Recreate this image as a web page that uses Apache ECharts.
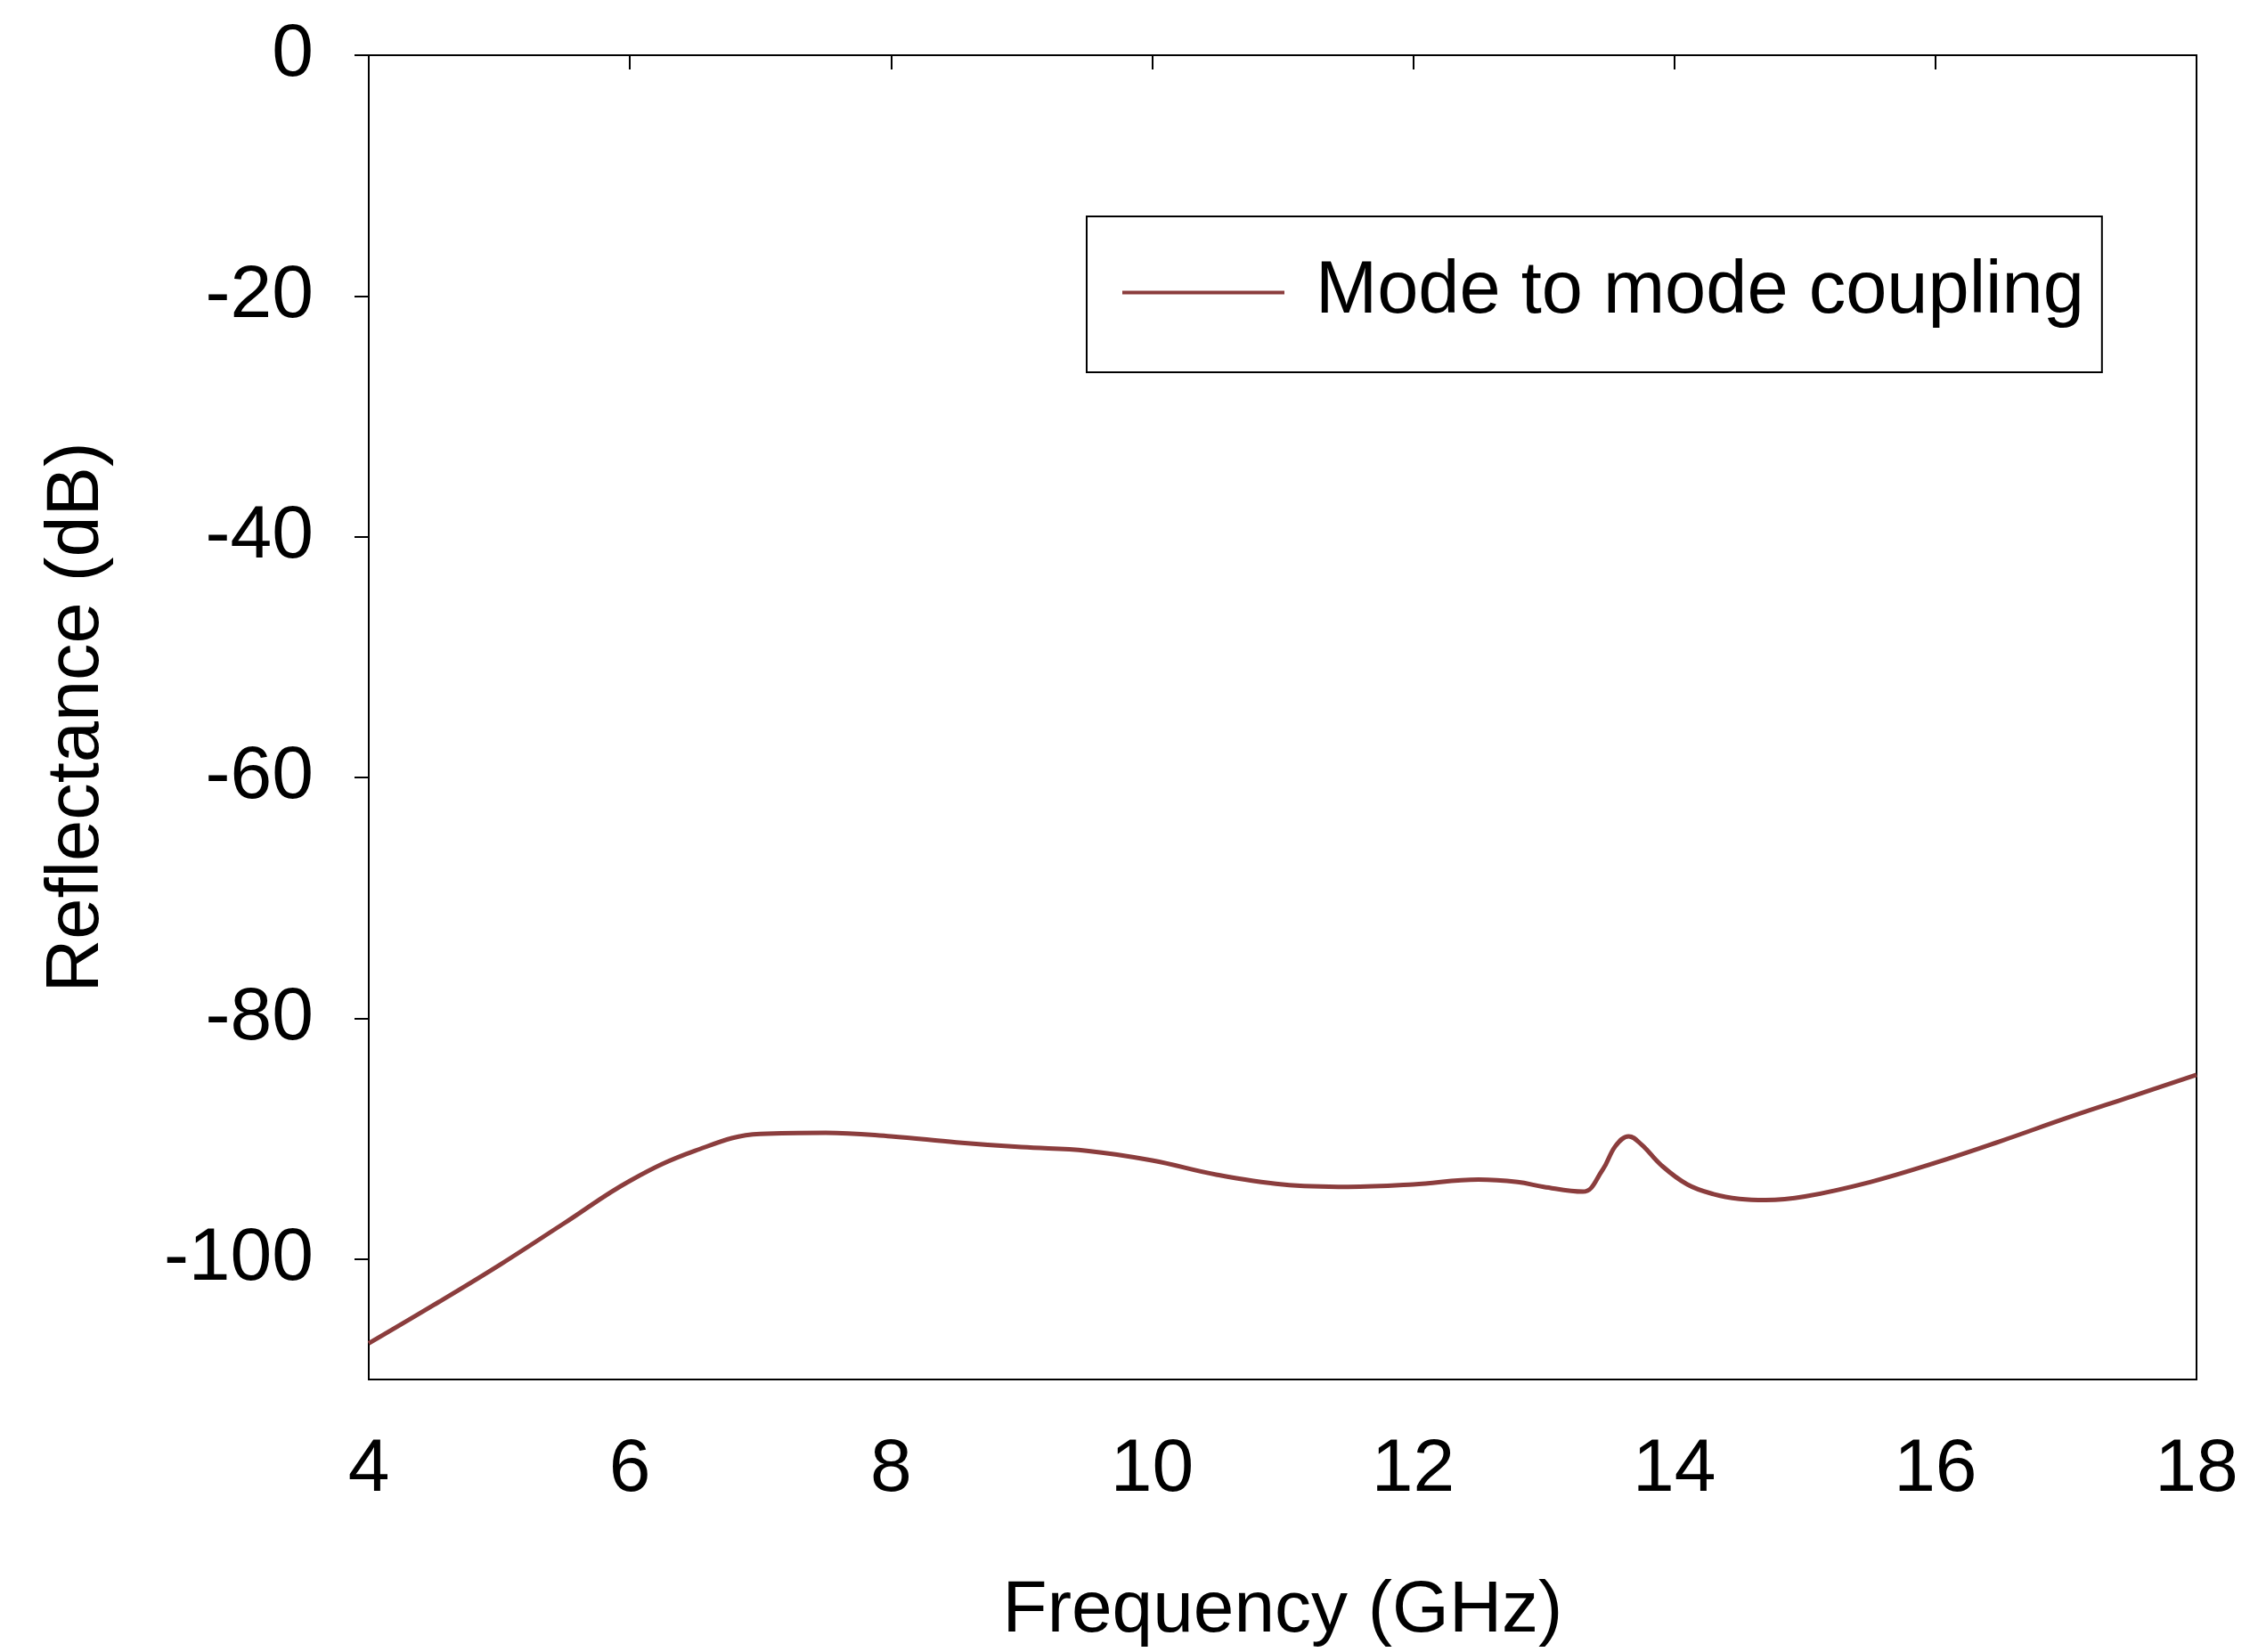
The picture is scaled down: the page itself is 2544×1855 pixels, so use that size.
<!DOCTYPE html>
<html><head><meta charset="utf-8">
<script src="https://cdn.jsdelivr.net/npm/echarts@6/dist/echarts.min.js"></script>
<style>html,body{margin:0;background:#fff}#c{width:2544px;height:1855px}</style>
</head><body><div id="c"></div>
<script>
const freq = [4,4.5,5,5.5,6,6.5,7,7.5,8,8.5,9,9.5,10,10.5,11,11.5,12,12.5,12.8,13,13.3,13.45,13.55,13.65,13.75,13.9,14.1,14.3,14.5,14.7,15,15.5,16,16.5,17,17.5,18];
const refl = [-107,-103.8,-100.5,-97,-93.5,-91,-89.6,-89.5,-89.8,-90.3,-90.7,-91,-91.8,-93,-93.8,-94,-93.8,-93.4,-93.6,-94,-94.4,-92.6,-90.6,-89.8,-90.5,-92.2,-93.8,-94.6,-95,-95.1,-94.8,-93.6,-92,-90.2,-88.3,-86.5,-84.7];
const xTicks = [4,6,8,10,12,14,16,18];
const yTicks = [0,-20,-40,-60,-80,-100];
const F = 'Liberation Sans, Arial, sans-serif';
const chart = echarts.init(document.getElementById('c'));
chart.setOption({
  animation:false,
  grid:{left:414,right:78,top:62,bottom:301,show:true,borderColor:'#000',borderWidth:2},
  legend:{left:1220,top:243,padding:[44,20,48,40],borderColor:'#000',borderWidth:2,
    itemWidth:182,itemHeight:4,itemGap:0,icon:'rect',
    textStyle:{fontFamily:F,fontSize:83,color:'#000',padding:[0,0,0,30]}},
  xAxis:{type:'value',position:'bottom',min:4,max:18,interval:2,name:'Frequency (GHz)',nameLocation:'middle',nameGap:219,
    nameTextStyle:{fontFamily:F,fontSize:82,color:'#000'},
    axisLine:{lineStyle:{color:'#000',width:2}},axisTick:{show:true,inside:false,length:16,lineStyle:{color:'#000',width:2}},
    axisLabel:{fontFamily:F,fontSize:84,color:'#000',margin:60},splitLine:{show:false}},
  yAxis:{type:'value',min:-110,max:0,name:'Reflectance (dB)',nameLocation:'middle',nameGap:285,
    nameTextStyle:{fontFamily:F,fontSize:83,color:'#000'},
    axisLine:{show:true,lineStyle:{color:'#000',width:2}},
    axisTick:{show:true,length:16,customValues:yTicks,lineStyle:{color:'#000',width:2}},
    axisLabel:{fontFamily:F,fontSize:84,color:'#000',margin:62,customValues:yTicks},splitLine:{show:false}},
  series:[{type:'line',name:'Mode to mode coupling',data:freq.map((f,i)=>[f,refl[i]]),smooth:0.4,showSymbol:false,
    lineStyle:{color:'#8b3d3d',width:5},itemStyle:{color:'#8b3d3d'}}]
});
</script></body></html>
